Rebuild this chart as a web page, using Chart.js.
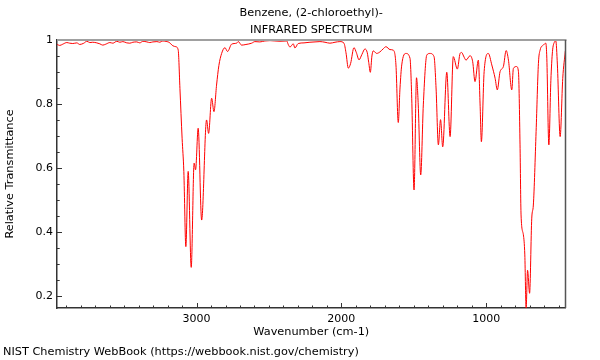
<!DOCTYPE html>
<html>
<head>
<meta charset="utf-8">
<script src="https://cdn.jsdelivr.net/npm/chart.js@4.4.1/dist/chart.umd.min.js"></script>
<style>
  html, body { margin: 0; padding: 0; background: #fff; }
  canvas { display: block; }
</style>
</head>
<body>
<canvas id="c" width="600" height="360"></canvas>
<script>
// ---- Data ----
const titleLines = ["Benzene, (2-chloroethyl)-", "INFRARED SPECTRUM"];
const xAxisTitle = "Wavenumber (cm-1)";
const yAxisTitle = "Relative Transmittance";
const footerText = "NIST Chemistry WebBook (https://webbook.nist.gov/chemistry)";

const xTickValues = [3000, 2000, 1000];
const yTickValues = [0.2, 0.4, 0.6, 0.8, 1];

const wavenumber = [
  3963, 3945, 3924, 3896, 3876, 3855, 3827, 3807, 3779, 3758,
  3737, 3717, 3689, 3668, 3648, 3627, 3599, 3578, 3551, 3530,
  3509, 3482, 3461, 3440, 3413, 3392, 3371, 3343, 3323, 3302,
  3274, 3254, 3233, 3205, 3191, 3178, 3164, 3143, 3127, 3115,
  3100, 3088, 3074, 3058, 3037, 3017, 3007, 2989, 2965, 2931,
  2917, 2896, 2880, 2862, 2846, 2827, 2804, 2786, 2758, 2724,
  2712, 2689, 2659, 2620, 2597, 2563, 2528, 2493, 2459, 2424,
  2378, 2366, 2355, 2332, 2321, 2298, 2258, 2217, 2182, 2148,
  2113, 2079, 2044, 2010, 1982, 1968, 1952, 1936, 1913, 1896,
  1878, 1858, 1837, 1821, 1811, 1800, 1789, 1780, 1756, 1733,
  1712, 1692, 1664, 1641, 1623, 1607, 1595, 1583, 1554, 1526,
  1514, 1498, 1481, 1469, 1452, 1434, 1410, 1388, 1360, 1346,
  1330, 1315, 1300, 1272, 1249, 1227, 1199, 1180, 1169, 1156,
  1139, 1111, 1093, 1077, 1054, 1042, 1033, 1014, 985, 961,
  938, 923, 904, 881, 862, 846, 823, 812, 790, 777,
  766, 759, 743, 733, 724, 714, 700, 685, 674, 655,
  639, 627, 605, 588, 581, 567, 553, 542, 529, 519,
  508, 489, 471, 453
];
const transmittance = [
  0.986, 0.983, 0.987, 0.992, 0.990, 0.989, 0.991, 0.986, 0.990, 0.996,
  0.992, 0.993, 0.991, 0.988, 0.984, 0.987, 0.992, 0.990, 0.996, 0.993,
  0.995, 0.991, 0.990, 0.993, 0.994, 0.991, 0.996, 0.994, 0.992, 0.994,
  0.995, 0.993, 0.997, 0.995, 0.993, 0.988, 0.982, 0.979, 0.969, 0.849,
  0.693, 0.589, 0.354, 0.589, 0.289, 0.615, 0.594, 0.724, 0.437, 0.750,
  0.708, 0.818, 0.776, 0.859, 0.920, 0.958, 0.976, 0.964, 0.987, 0.990,
  0.995, 0.984, 0.986, 0.990, 0.995, 0.994, 0.997, 0.998, 0.997, 0.996,
  0.997, 0.985, 0.978, 0.988, 0.975, 0.989, 0.991, 0.993, 0.994, 0.995,
  0.993, 0.990, 0.993, 0.995, 0.990, 0.960, 0.912, 0.927, 0.976, 0.960,
  0.938, 0.955, 0.972, 0.960, 0.930, 0.899, 0.950, 0.966, 0.958, 0.963,
  0.972, 0.979, 0.970, 0.968, 0.922, 0.742, 0.850, 0.922, 0.958, 0.943,
  0.818, 0.531, 0.882, 0.797, 0.578, 0.797, 0.953, 0.958, 0.948, 0.850,
  0.672, 0.751, 0.666, 0.899, 0.698, 0.948, 0.909, 0.958, 0.961, 0.950,
  0.937, 0.951, 0.932, 0.870, 0.937, 0.800, 0.682, 0.901, 0.958, 0.922,
  0.880, 0.844, 0.901, 0.917, 0.967, 0.937, 0.844, 0.911, 0.917, 0.901,
  0.672, 0.453, 0.391, 0.328, 0.162, 0.280, 0.208, 0.443, 0.484, 0.714,
  0.927, 0.969, 0.984, 0.990, 0.943, 0.672, 0.874, 0.964, 0.993, 0.997,
  0.922, 0.698, 0.880, 0.966
];

const points = wavenumber.map((w, i) => ({ x: w, y: transmittance[i] }));

const FONT = '"DejaVu Sans", Verdana, sans-serif';

const decor = {
  id: 'decor',
  afterDraw(chart) {
    const { ctx, chartArea: a, scales: { x, y } } = chart;
    ctx.save();
    const seg = (x1, y1, x2, y2) => { ctx.beginPath(); ctx.moveTo(x1, y1); ctx.lineTo(x2, y2); ctx.stroke(); };
    // inward ticks
    ctx.strokeStyle = '#333';
    ctx.lineWidth = 1;
    for (let v = 500; v <= 3900; v += 100) {
      const px = Math.round(x.getPixelForValue(v)) + 0.5;
      const len = (v % 1000 === 0) ? 5 : 2.5;
      seg(px, a.bottom, px, a.bottom - len);
    }
    for (let k = 4; k <= 20; k++) {
      const v = k * 0.05;
      const py = Math.round(y.getPixelForValue(v)) + 0.5;
      const len = (k % 4 === 0) ? 5 : 2.7;
      seg(a.left, py, a.left + len, py);
    }
    // top and right frame
    ctx.strokeStyle = '#a0a0a0';
    ctx.lineWidth = 2;
    seg(a.left, a.top, a.right + 1, a.top);
    ctx.strokeStyle = '#555';
    ctx.lineWidth = 1.5;
    seg(a.right, a.top, a.right, a.bottom);

    // texts
    ctx.fillStyle = '#000';
    ctx.font = '11.3px ' + FONT;
    ctx.textAlign = 'center';
    ctx.textBaseline = 'middle';
    const cx = (a.left + a.right) / 2;
    ctx.fillText(titleLines[0], cx, 13);
    ctx.fillText(titleLines[1], cx, 30);
    ctx.fillText(xAxisTitle, cx, 332);
    ctx.save();
    ctx.translate(10, (a.top + a.bottom) / 2);
    ctx.rotate(-Math.PI / 2);
    ctx.fillText(yAxisTitle, 0, 0);
    ctx.restore();
    ctx.textAlign = 'left';
    ctx.fillText(footerText, 3, 352);
    ctx.restore();
  }
};

new Chart(document.getElementById('c'), {
  type: 'line',
  data: {
    datasets: [{
      data: points,
      borderColor: '#ff0000',
      borderWidth: 1,
      pointRadius: 0,
      fill: false,
      cubicInterpolationMode: 'monotone'
    }]
  },
  options: {
    responsive: false,
    animation: false,
    layout: { padding: { left: 0, right: 34.5, top: 40, bottom: 0 } },
    plugins: { legend: { display: false }, tooltip: { enabled: false }, title: { display: false } },
    scales: {
      x: {
        type: 'linear',
        reverse: true,
        min: 452,
        max: 3964,
        afterBuildTicks: s => { s.ticks = xTickValues.map(v => ({ value: v })); },
        afterFit: s => { s.height = 52; },
        grid: { drawOnChartArea: false, drawTicks: false },
        border: { color: '#333', width: 1.5 },
        ticks: { color: '#000', font: { family: FONT, size: 11 }, padding: 5, maxRotation: 0, callback: v => String(v) }
      },
      y: {
        type: 'linear',
        min: 0.162,
        max: 1,
        afterBuildTicks: s => { s.ticks = yTickValues.map(v => ({ value: v })); },
        afterFit: s => { s.width = 57; },
        grid: { drawOnChartArea: false, drawTicks: false },
        border: { color: '#333', width: 1.5 },
        ticks: { color: '#000', font: { family: FONT, size: 11 }, padding: 4, callback: v => (v === 1 ? '1' : v.toFixed(1)) }
      }
    }
  },
  plugins: [decor]
});
</script>
</body>
</html>
